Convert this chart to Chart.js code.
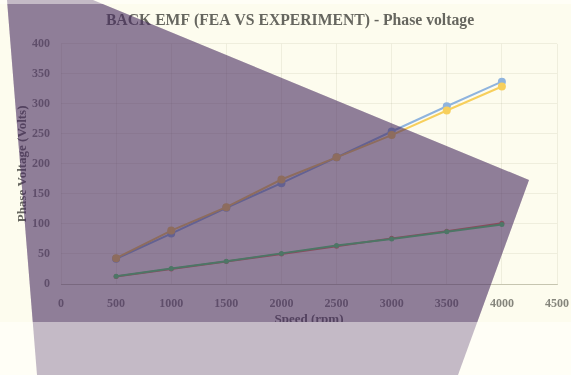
<!DOCTYPE html>
<html>
<head>
<meta charset="utf-8">
<script src="https://cdn.jsdelivr.net/npm/chart.js@4/dist/chart.umd.min.js"></script>
<style>
  html, body { margin: 0; padding: 0; background: #fffef6; }
  body { width: 571px; height: 375px; position: relative; overflow: hidden; }
  #wrap { position: absolute; left: 0; top: 4px; width: 571px; height: 318px; background: #fdfcee; }
  #shade { position: absolute; left: 0; top: 0; pointer-events: none; }
</style>
</head>
<body>
<div id="wrap"><canvas id="c" width="571" height="318"></canvas></div>
<svg id="shade" width="571" height="375" viewBox="0 0 571 375">
  <defs>
    <clipPath id="plotRect"><rect x="0" y="4" width="571" height="318"/></clipPath>
  </defs>
  <polygon points="7,0 93,0 529,180 458,375 37,375" fill="rgb(70,42,95)" fill-opacity="0.32"/>
  <polygon points="7,0 93,0 529,180 458,375 37,375" fill="rgb(70,42,95)" fill-opacity="0.41" clip-path="url(#plotRect)"/>
</svg>
<script>
// Motor speed (rpm) and measured / simulated voltages (V)
const speedRpm = [500, 1000, 1500, 2000, 2500, 3000, 3500, 4000];
const feaLineVoltage = [42, 84, 127, 168, 211, 254, 296, 337];
const expLineVoltage = [43, 89, 128, 174, 211, 248, 289, 329];
const feaPhaseVoltage = [13, 26, 38, 51, 64, 75, 87, 99];
const expPhaseVoltage = [12.5, 25, 37.5, 50, 63, 76, 88, 101];

const xTicks = [0, 500, 1000, 1500, 2000, 2500, 3000, 3500, 4000, 4500];
const yTicks = [0, 50, 100, 150, 200, 250, 300, 350, 400];

const serif = '"Liberation Serif", "Times New Roman", serif';

function pairs(ys) {
  return speedRpm.map((x, i) => ({ x: x, y: ys[i] }));
}

function series(label, ys, color, r) {
  return {
    label: label,
    data: pairs(ys),
    showLine: true,
    borderColor: color,
    backgroundColor: color,
    borderWidth: 2,
    pointRadius: r,
    pointBorderWidth: 0,
    pointBackgroundColor: color
  };
}

// Chart.js paints the first dataset last, so it ends up on top
new Chart(document.getElementById('c'), {
  type: 'scatter',
  data: {
    datasets: [
      series('Experiment line voltage', expLineVoltage, '#f7cf5c', 4),
      series('FEA line voltage', feaLineVoltage, '#8fb4de', 4),
      series('FEA phase voltage', feaPhaseVoltage, '#58e872', 2.5),
      series('Experiment phase voltage', expPhaseVoltage, '#f07a5a', 2.5)
    ]
  },
  options: {
    responsive: false,
    animation: false,
    layout: { padding: { left: 9, right: 0, top: 0, bottom: 0 } },
    plugins: {
      legend: { display: false },
      tooltip: { enabled: false },
      title: {
        display: true,
        text: 'BACK EMF (FEA VS EXPERIMENT) - Phase voltage',
        color: '#66665f',
        font: { family: serif, size: 15.7, weight: 'bold', lineHeight: 1.2 },
        padding: { top: 8, bottom: 13 }
      }
    },
    scales: {
      x: {
        type: 'linear',
        min: 0,
        max: 4500,
        afterBuildTicks: (s) => { s.ticks = xTicks.map(v => ({ value: v })); },
        afterFit: (s) => { s.height = 38; s.paddingRight = 14; },
        grid: { color: 'rgba(120,120,80,0.10)', drawTicks: false },
        border: { color: 'rgba(120,120,90,0.35)' },
        ticks: {
          padding: 13,
          color: '#85857c',
          maxRotation: 0,
          callback: (v) => String(v),
          font: { family: serif, size: 12, weight: 'bold' }
        },
        title: {
          display: true,
          text: 'Speed (rpm)',
          color: '#66665f',
          font: { family: serif, size: 13, weight: 'bold', lineHeight: 0.3 },
          padding: { top: 0, bottom: 0 }
        }
      },
      y: {
        type: 'linear',
        min: 0,
        max: 400,
        afterBuildTicks: (s) => { s.ticks = yTicks.map(v => ({ value: v })); },
        afterFit: (s) => { s.width = 52; },
        grid: { color: 'rgba(120,120,80,0.10)', drawTicks: false },
        border: { display: false },
        ticks: {
          padding: 11,
          color: '#85857c',
          callback: (v) => String(v),
          font: { family: serif, size: 12, weight: 'bold' }
        },
        title: {
          display: true,
          text: 'Phase Voltage (Volts)',
          color: '#66665f',
          font: { family: serif, size: 13, weight: 'bold' },
          padding: { top: 6, bottom: 0 }
        }
      }
    }
  }
});
</script>
</body>
</html>
